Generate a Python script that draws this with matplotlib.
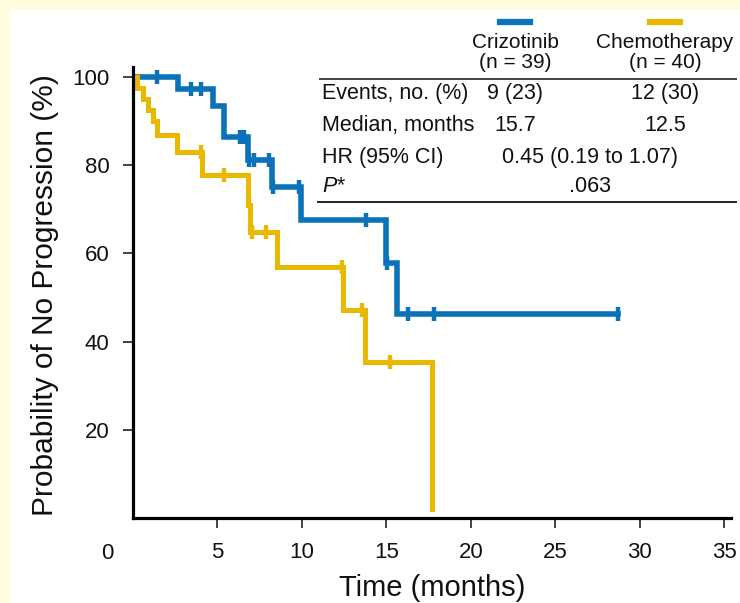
import numpy as np
import matplotlib
matplotlib.use("Agg")
import matplotlib.pyplot as plt
from matplotlib.patches import Rectangle
from matplotlib.lines import Line2D

plt.rcParams['font.family'] = ['Liberation Sans', 'DejaVu Sans']

# ----- Kaplan-Meier steps (months, % without progression) -----
criz_times = [0, 2.68, 4.75, 5.4, 6.8, 8.2, 9.95, 14.95, 15.6, 28.7]
criz_surv = [100, 97.4, 93.5, 86.5, 81.3, 75.1, 67.7, 57.8, 46.3, 46.3]
criz_censor = [1.4, 3.45, 4.0, 6.35, 6.6, 6.85, 7.15, 8.05, 8.3, 9.8,
               13.8, 15.05, 16.3, 17.8, 28.7]

chemo_times = [0, 0.25, 0.6, 0.9, 1.2, 1.4, 2.6, 4.1, 6.8, 6.95, 8.55,
               12.45, 13.75, 17.7]
chemo_surv = [100, 97.5, 95.0, 92.5, 90.0, 86.8, 83.0, 77.8, 71.0, 64.9,
              57.0, 47.2, 35.4, 2.0]
chemo_censor = [4.0, 5.4, 7.05, 7.85, 12.4, 13.55, 15.2]

# ----- summary table -----
arms = ["Crizotinib", "Chemotherapy"]
arm_n = ["(n = 39)", "(n = 40)"]
row_labels = ["Events, no. (%)", "Median, months", "HR (95% CI)", "P*"]
events = ["9 (23)", "12 (30)"]
medians = ["15.7", "12.5"]
hr_text = "0.45 (0.19 to 1.07)"
p_text = ".063"

BLUE = "#0A72B9"
GOLD = "#E9B800"
TXT = "#111111"
TFS = 15.5   # table font size
HFS = 15     # header font size

W, H = 740, 603
fig = plt.figure(figsize=(W / 100, H / 100), dpi=100)
fig.patch.set_facecolor("#FFFCDC")
fig.patches.append(Rectangle((10 / W, 0), 1, 1 - 9 / H, transform=fig.transFigure,
                             facecolor="white", edgecolor="none", zorder=-1))


def fx(px):
    return px / W


def fy(py):
    return 1 - py / H


ax = fig.add_axes([fx(133), fy(518), fx(731) - fx(133), fy(67) - fy(518)])
ax.set_facecolor("white")


def at_time(times, surv, c):
    i = np.searchsorted(times, c, side="right") - 1
    return surv[i]


for times, surv, cens, col, lw in [(criz_times, criz_surv, criz_censor, BLUE, 4.0),
                                   (chemo_times, chemo_surv, chemo_censor, GOLD, 3.6)]:
    ax.step(times, surv, where="post", color=col, lw=lw, solid_joinstyle="miter")
    cy = [at_time(np.array(times), np.array(surv), c) for c in cens]
    ax.plot(cens, cy, ls="none", marker="|", ms=10, mew=3.2, color=col)

ax.set_xlim(0, 35.4)
ax.set_ylim(0, 102.3)
ax.set_xticks([5, 10, 15, 20, 25, 30, 35])
ax.set_yticks([20, 40, 60, 80, 100])
for s in ["top", "right"]:
    ax.spines[s].set_visible(False)
for s in ["left", "bottom"]:
    ax.spines[s].set_linewidth(2.3)
    ax.spines[s].set_color("black")
ax.tick_params(axis="both", length=7, width=1.2, color="#222222",
               labelsize=16, labelcolor=TXT, pad=10)
ax.text(-1.5, -0.055, "0", transform=ax.get_xaxis_transform(), ha="center",
        va="top", fontsize=16, color=TXT, clip_on=False)

fig.text(fx(45), fy(295), "Probability of No Progression (%)", rotation=90,
         ha="center", va="center", fontsize=21.5, color=TXT)
fig.text(fx(432), fy(588), "Time (months)", ha="center", va="center",
         fontsize=21, color=TXT)

# table block
col_x = [515, 665]
for cx, name, n, col in zip(col_x, arms, arm_n, [BLUE, GOLD]):
    fig.add_artist(Line2D([fx(cx - 15), fx(cx + 15)], [fy(22), fy(22)],
                          color=col, lw=4.5, transform=fig.transFigure))
    fig.text(fx(cx), fy(42), name, ha="center", va="center", fontsize=HFS, color=TXT)
    fig.text(fx(cx), fy(62), n, ha="center", va="center", fontsize=HFS, color=TXT)

fig.add_artist(Line2D([fx(320), fx(736)], [fy(79), fy(79)], color="#444444",
                      lw=1.4, transform=fig.transFigure))
fig.add_artist(Line2D([fx(318), fx(736)], [fy(202), fy(202)], color="#222222",
                      lw=1.4, transform=fig.transFigure))

row_y = [93, 125, 157, 187]
for ry, lab in zip(row_y, row_labels):
    if lab == "P*":
        fig.text(fx(322), fy(ry), "P", style="italic", ha="left", va="center",
                 fontsize=TFS, color=TXT)
        fig.text(fx(337), fy(ry - 1), "*", ha="left", va="center",
                 fontsize=TFS, color=TXT)
    else:
        fig.text(fx(322), fy(ry), lab, ha="left", va="center", fontsize=TFS, color=TXT)

for cx, e, m in zip(col_x, events, medians):
    fig.text(fx(cx), fy(row_y[0]), e, ha="center", va="center", fontsize=TFS, color=TXT)
    fig.text(fx(cx), fy(row_y[1]), m, ha="center", va="center", fontsize=TFS, color=TXT)
fig.text(fx(590), fy(row_y[2]), hr_text, ha="center", va="center", fontsize=TFS, color=TXT)
fig.text(fx(590), fy(row_y[3]), p_text, ha="center", va="center", fontsize=TFS, color=TXT)

fig.savefig("out.png", dpi=100, facecolor=fig.get_facecolor())
